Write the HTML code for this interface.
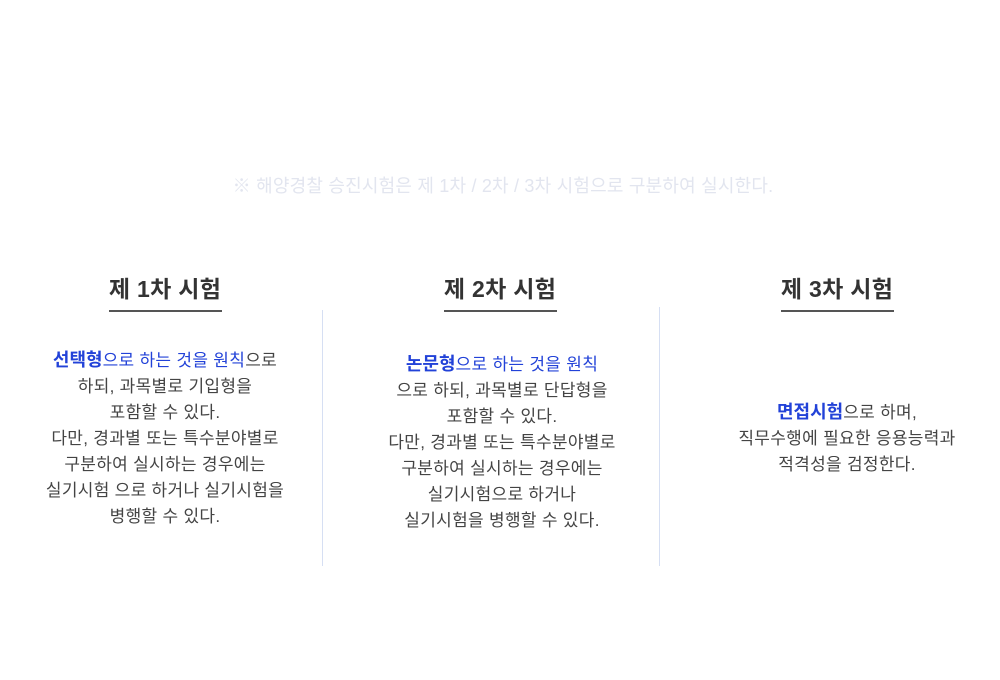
<!DOCTYPE html>
<html><head><meta charset="utf-8"><style>
body{margin:0;width:1000px;height:680px;background:#fff;position:relative;overflow:hidden;font-family:"Liberation Sans","Noto Sans CJK KR",sans-serif;}
.note{position:absolute;top:172px;left:0;width:1006px;text-align:center;font-size:18px;letter-spacing:0.2px;color:#e2e5ef;}
.t{position:absolute;top:270px;width:240px;text-align:center;font-size:23px;font-weight:bold;color:#333;letter-spacing:0.3px}
.u{position:absolute;top:310px;width:113px;height:2px;background:#555}
.d{position:absolute;width:320px;text-align:center;font-size:17px;line-height:26px;color:#444;letter-spacing:0.3px}
.b{color:#2242d8}.bb{color:#2242d8;font-weight:bold;font-size:18px;letter-spacing:0}
.v{position:absolute;width:1px;background:#d6dff3}
</style></head><body>
<div class="note">※ 해양경찰 승진시험은 제 1차 / 2차 / 3차 시험으로 구분하여 실시한다.</div>
<div class="t" style="left:45px">제 1차 시험</div><div class="u" style="left:109px"></div>
<div class="t" style="left:380px">제 2차 시험</div><div class="u" style="left:444px"></div>
<div class="t" style="left:717px">제 3차 시험</div><div class="u" style="left:781px"></div>
<div class="v" style="left:322px;top:310px;height:256px"></div>
<div class="v" style="left:659px;top:307px;height:259px"></div>
<div class="d" style="left:5px;top:347px"><span class="bb">선택형</span><span class="b">으로 하는 것을 원칙</span>으로<br>하되, 과목별로 기입형을<br>포함할 수 있다.<br>다만, 경과별 또는 특수분야별로<br>구분하여 실시하는 경우에는<br>실기시험 으로 하거나 실기시험을<br>병행할 수 있다.</div>
<div class="d" style="left:342px;top:351px"><span class="bb">논문형</span><span class="b">으로 하는 것을 원칙</span><br>으로 하되, 과목별로 단답형을<br>포함할 수 있다.<br>다만, 경과별 또는 특수분야별로<br>구분하여 실시하는 경우에는<br>실기시험으로 하거나<br>실기시험을 병행할 수 있다.</div>
<div class="d" style="left:687px;top:399px"><span class="bb">면접시험</span>으로 하며,<br>직무수행에 필요한 응용능력과<br>적격성을 검정한다.</div>
</body></html>
